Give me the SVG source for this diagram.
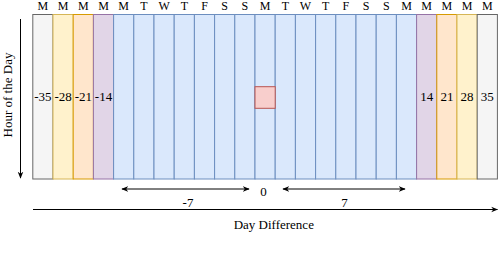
<svg xmlns="http://www.w3.org/2000/svg" width="498" height="266" viewBox="0 0 498 266">
<defs>
<style>
.t{font-family:"Liberation Serif","Times New Roman",serif;fill:#000;text-anchor:middle}
.day{font-size:12px}
.num{font-size:13px}
.gray{fill:#f5f5f5;stroke:#666666}
.yel{fill:#fff2cc;stroke:#d6b656}
.org{fill:#ffe6cc;stroke:#d79b00}
.pur{fill:#e1d5e7;stroke:#9673a6}
.blu{fill:#dae8fc;stroke:#6c8ebf}
.pink{fill:#f8cecc;stroke:#b85450}
.ln{stroke:#000;stroke-width:1;fill:none}
</style>
<marker id="ah" viewBox="0 0 10 10" refX="9" refY="5" markerWidth="7" markerHeight="7" markerUnits="userSpaceOnUse" orient="auto-start-reverse">
<path d="M0,1 L10,5 L0,9 L3,5 Z" fill="#000"/>
</marker>
</defs>
<g id="columns">
<rect id="c0" class="gray" x="32.8" y="14.5" width="20.2" height="164.5"/>
<rect id="c1" class="yel" x="53" y="14.5" width="20.2" height="164.5"/>
<rect id="c2" class="org" x="73.2" y="14.5" width="20.2" height="164.5"/>
<rect id="c3" class="pur" x="93.4" y="14.5" width="20.2" height="164.5"/>
<rect id="c4" class="blu" x="113.6" y="14.5" width="20.2" height="164.5"/>
<rect id="c5" class="blu" x="133.8" y="14.5" width="20.2" height="164.5"/>
<rect id="c6" class="blu" x="154" y="14.5" width="20.2" height="164.5"/>
<rect id="c7" class="blu" x="174.2" y="14.5" width="20.2" height="164.5"/>
<rect id="c8" class="blu" x="194.4" y="14.5" width="20.2" height="164.5"/>
<rect id="c9" class="blu" x="214.6" y="14.5" width="20.2" height="164.5"/>
<rect id="c10" class="blu" x="234.8" y="14.5" width="20.2" height="164.5"/>
<rect id="c11" class="blu" x="255" y="14.5" width="20.2" height="164.5"/>
<rect id="c12" class="blu" x="275.2" y="14.5" width="20.2" height="164.5"/>
<rect id="c13" class="blu" x="295.4" y="14.5" width="20.2" height="164.5"/>
<rect id="c14" class="blu" x="315.6" y="14.5" width="20.2" height="164.5"/>
<rect id="c15" class="blu" x="335.8" y="14.5" width="20.2" height="164.5"/>
<rect id="c16" class="blu" x="356" y="14.5" width="20.2" height="164.5"/>
<rect id="c17" class="blu" x="376.2" y="14.5" width="20.2" height="164.5"/>
<rect id="c18" class="blu" x="396.4" y="14.5" width="20.2" height="164.5"/>
<rect id="c19" class="pur" x="416.6" y="14.5" width="20.2" height="164.5"/>
<rect id="c20" class="org" x="436.8" y="14.5" width="20.2" height="164.5"/>
<rect id="c21" class="yel" x="457" y="14.5" width="20.2" height="164.5"/>
<rect id="c22" class="gray" x="477.2" y="14.5" width="20.2" height="164.5"/>
</g>
<g id="center-cell">
<rect class="pink" x="255" y="86.7" width="20.2" height="21.6"/>
</g>
<g id="day-labels" class="t day">
<text x="42.9" y="10">M</text>
<text x="63.1" y="10">M</text>
<text x="83.3" y="10">M</text>
<text x="103.5" y="10">M</text>
<text x="123.7" y="10">M</text>
<text x="143.9" y="10">T</text>
<text x="164.1" y="10">W</text>
<text x="184.3" y="10">T</text>
<text x="204.5" y="10">F</text>
<text x="224.7" y="10">S</text>
<text x="244.9" y="10">S</text>
<text x="265.1" y="10">M</text>
<text x="285.3" y="10">T</text>
<text x="305.5" y="10">W</text>
<text x="325.7" y="10">T</text>
<text x="345.9" y="10">F</text>
<text x="366.1" y="10">S</text>
<text x="386.3" y="10">S</text>
<text x="406.5" y="10">M</text>
<text x="426.7" y="10">M</text>
<text x="446.9" y="10">M</text>
<text x="467.1" y="10">M</text>
<text x="487.3" y="10">M</text>
</g>
<g id="offset-labels" class="t num">
<text x="42.9" y="101">-35</text>
<text x="63.1" y="101">-28</text>
<text x="83.3" y="101">-21</text>
<text x="103.5" y="101">-14</text>
<text x="426.7" y="101">14</text>
<text x="446.9" y="101">21</text>
<text x="467.1" y="101">28</text>
<text x="487.3" y="101">35</text>
</g>
<g id="connectors">
<line class="ln" x1="20.5" y1="19" x2="20.5" y2="178" marker-end="url(#ah)"/>
<line class="ln" x1="122" y1="189" x2="249" y2="189" marker-start="url(#ah)" marker-end="url(#ah)"/>
<line class="ln" x1="283" y1="189" x2="405" y2="189" marker-start="url(#ah)" marker-end="url(#ah)"/>
<line class="ln" x1="33" y1="209.5" x2="497.5" y2="209.5" marker-end="url(#ah)"/>
</g>
<g id="axis-labels" class="t num">
<text x="263.5" y="195.5">0</text>
<text x="188" y="206.5">-7</text>
<text x="344.5" y="206.5">7</text>
<text x="273.8" y="228.5">Day Difference</text>
<text transform="translate(11.5,95) rotate(-90)">Hour of the Day</text>
</g>
</svg>
